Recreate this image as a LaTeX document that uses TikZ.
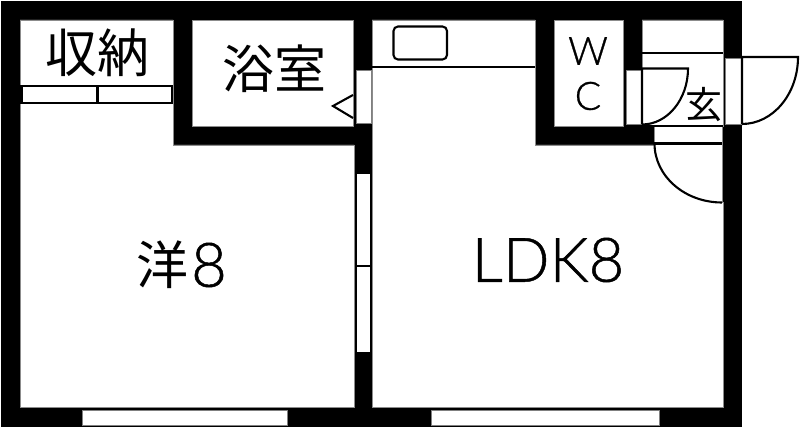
\documentclass[tikz,border=0pt]{standalone}
\usepackage{fontspec}
\setmainfont[RawFeature={embolden=0.8}]{Lato Light}
\newfontfamily\jp{Noto Sans CJK JP}
\tikzset{
  x=1pt,y=-1pt,
  room/.style={fill=white,draw=black!45,line width=0.6pt},
  opening/.style={fill=white,draw=black,line width=1.5pt},
  thin line/.style={draw=black,line width=2.1pt},
  glass/.style={fill=white,draw=black!50,line width=0.7pt},
  lbl/.style={inner sep=0pt,anchor=center,text=black}
}
\begin{document}
\begin{tikzpicture}
\useasboundingbox (0,0) rectangle (800,427);
\fill[white] (0,0) rectangle (800,427);
% wall mass
\fill[black] (1,1) rectangle (742,426.5);
% rooms
\path[room] (20,20) -- (173,20) -- (173,145) -- (354,145) -- (354,407) -- (20,407) -- cycle;
\path[room] (192,20) rectangle (353.5,126);
\path[room] (372,20) -- (535,20) -- (535,145) -- (654,145) -- (654,126) -- (642,126) -- (642,20) -- (723,20) -- (723,126) -- (722,126) -- (722,202) -- (723,202) -- (723,407) -- (372,407) -- cycle;
\path[room] (554,20) rectangle (623,126);
% closet doors
\draw[thin line] (20,86) -- (173,86);
\draw[thin line] (20,103) -- (173,103);
\draw[thin line] (97.5,86) -- (97.5,103);
\fill[black] (20,86) rectangle (22.5,103);
\fill[black] (171,86) rectangle (173,103);
% bath door
\path[glass] (356.5,70) rectangle (371,123);
\draw[black,line width=2.1pt,line join=miter] (353,95) -- (333,106) -- (353,118);
% partition window
\path[opening] (356.5,173) rectangle (371,353);
\draw[black,line width=1.5pt] (356.5,266) -- (371,266);
% bottom windows
\path[glass] (82,410) rectangle (287,425);
\path[glass] (431,410) rectangle (659,425);
% kitchen
\draw[thin line] (372,67) -- (535,67);
\draw[thin line,rounded corners=4.5pt] (393.5,26.5) rectangle (447,59.5);
% WC door
\path[glass] (626,70) rectangle (641,124);
% entrance
\draw[thin line] (642,53) -- (723,53);
\draw[thin line] (642,126) -- (723,126);
\draw[thin line] (654,143.5) -- (722,143.5);
\draw[thin line] (642,124.5) -- (642,68.5) -- (688,68.5) .. controls (688,99.4) and (667.4,124.5) .. (642,124.5);
% front door
\path[glass] (725,58) rectangle (741,124);
\draw[thin line] (742,124) -- (742,57) -- (798,57) .. controls (798,94) and (772.9,124) .. (742,124);
% LDK door
\draw[thin line] (654.5,143.5) .. controls (654.5,176.1) and (684.7,202.5) .. (722,202.5);
% labels
\node[lbl,font=\jp\fontsize{52}{52}\selectfont] (closet) at (97.5,53) {収納};
\node[lbl,font=\jp\fontsize{52}{52}\selectfont] (bath) at (274,69) {浴室};
\node[lbl,font=\jp\fontsize{37}{37}\selectfont] (gen) at (703.5,105) {玄};
\node[lbl,font=\fontsize{39}{39}\selectfont] (w) at (588,51) {W};
\node[lbl,font=\fontsize{39}{39}\selectfont] (c) at (588,96) {C};
\node[lbl,font=\jp\fontsize{52}{52}\selectfont] (yo) at (162,265) {洋};
\node[lbl,font=\fontsize{61.5}{61.5}\selectfont] (yon) at (209,265) {8};
\node[lbl,font=\fontsize{61.5}{61.5}\selectfont] (ldk) at (548,260) {LDK8};
\end{tikzpicture}
\end{document}
